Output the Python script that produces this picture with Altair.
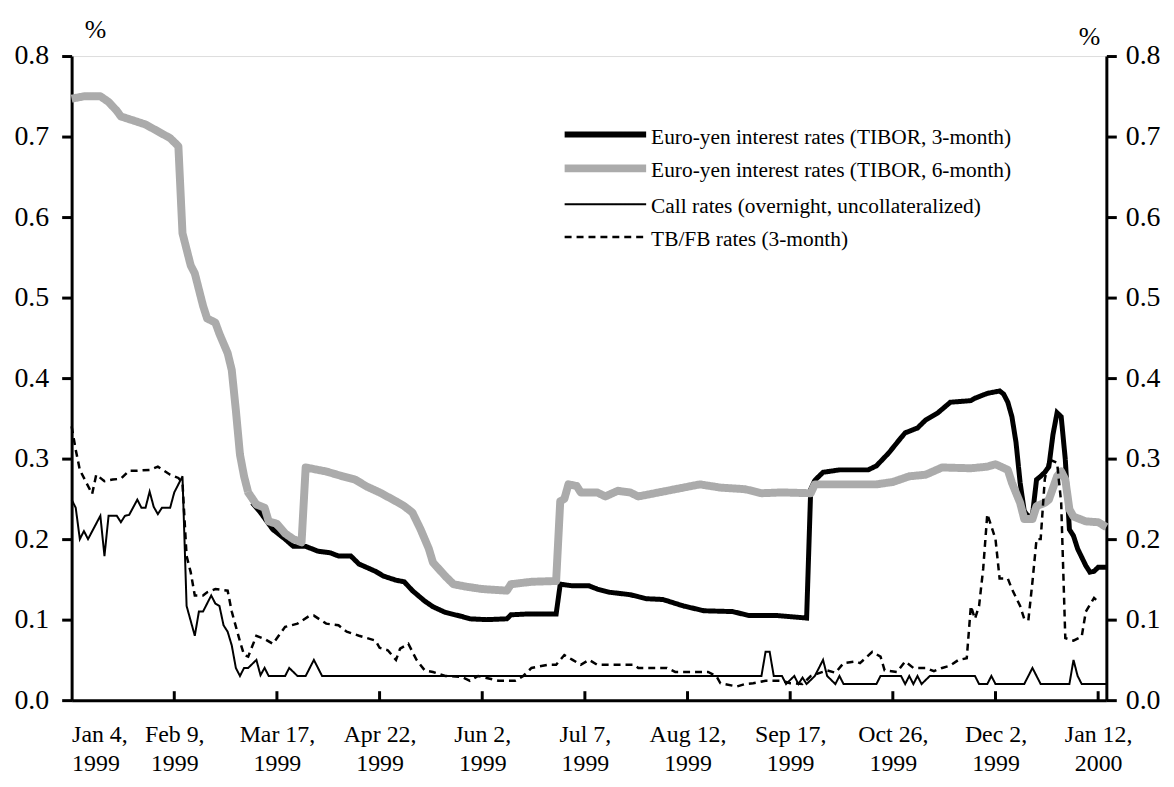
import altair as alt
import pandas as pd

FONT = "Liberation Serif"

# x positions are business-day counts from Jan 4, 1999
tick_idx = [0, 25, 50, 75, 100, 125, 150, 175, 200, 225, 250]
tick_month = ["Jan 4,", "Feb 9,", "Mar 17,", "Apr 22,", "Jun 2,", "Jul 7,",
              "Aug 12,", "Sep 17,", "Oct 26,", "Dec 2,", "Jan 12,"]
tick_year = ["1999"] * 10 + ["2000"]
y_ticks = [0.0, 0.1, 0.2, 0.3, 0.4, 0.5, 0.6, 0.7, 0.8]

names = ["Euro-yen interest rates (TIBOR, 3-month)",
         "Euro-yen interest rates (TIBOR, 6-month)",
         "Call rates (overnight, uncollateralized)",
         "TB/FB rates (3-month)"]

s3_idx = [44,46,49,52,54,57,60,63,65,68,70,74,76,79,81,83,86,88,91,95,97,101,106,107,111,118,119,122,126,128,
          131,136,140,144,149,154,161,165,172,179,180,181,183,187,194,196,199,202,203,206,208,211,214,219,220,
          223,226,227,228,229,230,231,232,233,234,235,236,237,238,239,240,241,242,243,244,245,247,248,249,250,252]
s3_val = [0.245,0.233,0.212,0.2,0.191,0.191,0.185,0.183,0.179,0.179,0.169,0.16,0.154,0.149,0.147,0.136,0.123,0.116,
          0.109,0.104,0.101,0.1,0.101,0.106,0.107,0.107,0.144,0.142,0.142,0.138,0.134,0.131,0.126,0.125,0.117,0.111,
          0.11,0.105,0.105,0.102,0.262,0.273,0.283,0.286,0.286,0.291,0.307,0.326,0.332,0.338,0.348,0.357,0.37,0.372,
          0.375,0.381,0.384,0.38,0.37,0.352,0.32,0.27,0.235,0.228,0.23,0.274,0.278,0.283,0.29,0.33,0.357,0.352,0.299,
          0.212,0.204,0.188,0.167,0.159,0.16,0.165,0.165]

s6_idx = [0,3,7,9,11,12,18,24,26,27,28,29,30,31,32,33,35,36,38,39,40,41,42,43,45,47,48,50,52,54,56,57,62,66,69,
          72,75,79,81,83,85,87,88,91,93,96,100,106,107,112,118,119,120,121,123,124,128,130,133,136,138,143,147,153,
          158,164,168,173,180,181,192,196,200,204,208,212,219,223,225,228,229,231,232,234,235,237,238,240,241,242,
          243,244,247,250,252]
s6_val = [0.747,0.75,0.75,0.743,0.732,0.725,0.715,0.698,0.688,0.58,0.56,0.54,0.53,0.51,0.49,0.474,0.469,0.455,0.431,
          0.41,0.36,0.305,0.278,0.258,0.243,0.239,0.222,0.219,0.207,0.2,0.196,0.289,0.284,0.278,0.274,0.265,0.258,
          0.247,0.241,0.233,0.212,0.188,0.171,0.154,0.144,0.141,0.138,0.136,0.144,0.147,0.148,0.247,0.25,0.268,0.266,
          0.258,0.258,0.253,0.26,0.258,0.253,0.258,0.262,0.268,0.264,0.262,0.257,0.258,0.257,0.268,0.268,0.268,0.271,
          0.278,0.28,0.289,0.288,0.29,0.293,0.286,0.27,0.245,0.225,0.225,0.241,0.245,0.249,0.278,0.284,0.274,0.237,
          0.228,0.222,0.221,0.215]

call_idx = [0,1,2,3,4,7,8,9,11,12,13,14,16,17,18,19,20,21,22,24,25,27,28,30,31,32,34,35,36,37,38,39,40,41,42,43,
            45,46,47,48,52,53,55,57,59,61,168,169,170,171,173,174,176,177,178,179,181,183,184,186,187,188,196,197,
            202,203,204,205,206,207,209,220,221,223,224,225,232,234,235,236,243,244,245,246,252]
call_val = [0.249,0.239,0.2,0.21,0.2,0.229,0.179,0.229,0.229,0.221,0.229,0.23,0.249,0.239,0.239,0.259,0.24,0.231,
            0.239,0.239,0.258,0.278,0.117,0.08,0.11,0.11,0.13,0.12,0.117,0.093,0.085,0.068,0.04,0.03,0.04,0.04,0.05,
            0.031,0.04,0.03,0.03,0.04,0.03,0.03,0.05,0.03,0.03,0.06,0.06,0.03,0.03,0.02,0.03,0.02,0.028,0.02,0.03,
            0.05,0.03,0.02,0.03,0.02,0.02,0.03,0.03,0.02,0.03,0.02,0.03,0.02,0.03,0.03,0.02,0.02,0.03,0.02,0.02,0.04,
            0.03,0.02,0.02,0.05,0.03,0.02,0.02]

tb_idx = [0,1,2,5,6,8,10,12,14,16,19,21,24,26,27,28,29,30,32,33,35,38,39,41,42,43,45,47,49,52,55,58,59,62,65,67,
          70,74,75,77,79,80,82,84,86,88,91,95,97,99,104,108,110,112,116,118,120,122,124,126,128,137,138,145,147,155,
          157,158,162,164,166,169,173,175,178,180,184,186,188,191,192,195,197,198,201,203,205,208,210,212,214,216,
          218,219,220,221,222,223,224,225,226,228,229,231,232,233,234,235,236,237,238,240,241,242,244,246,247,249,250]
tb_val = [0.34,0.311,0.286,0.256,0.28,0.272,0.274,0.275,0.285,0.285,0.286,0.29,0.28,0.276,0.27,0.179,0.159,0.13,0.13,
          0.134,0.138,0.136,0.11,0.073,0.056,0.054,0.08,0.076,0.07,0.091,0.095,0.105,0.105,0.095,0.093,0.085,0.08,
          0.074,0.065,0.062,0.05,0.064,0.07,0.05,0.037,0.035,0.03,0.029,0.024,0.03,0.024,0.024,0.03,0.04,0.044,0.044,
          0.056,0.05,0.044,0.05,0.044,0.044,0.04,0.04,0.035,0.035,0.03,0.021,0.017,0.02,0.021,0.024,0.024,0.021,0.02,
          0.03,0.037,0.034,0.046,0.048,0.046,0.06,0.054,0.037,0.035,0.048,0.04,0.04,0.036,0.04,0.043,0.05,0.052,0.117,
          0.101,0.117,0.163,0.231,0.216,0.2,0.151,0.151,0.138,0.117,0.101,0.099,0.147,0.2,0.2,0.274,0.299,0.295,0.245,
          0.077,0.074,0.079,0.11,0.127,0.122]

series_data = [(s3_idx, s3_val), (s6_idx, s6_val), (call_idx, call_val), (tb_idx, tb_val)]
colors = ["#000000", "#ababab", "#000000", "#000000"]
widths = [5, 8, 2, 2.5]
dashes = [[1, 0], [1, 0], [1, 0], [7, 5]]

W, H = 1041, 648

label_expr = " : ".join(
    f"datum.value == {i} ? ['{m}', '{y}']" for i, m, y in zip(tick_idx, tick_month, tick_year)
) + " : ''"

x_enc = alt.X("idx:Q",
              scale=alt.Scale(domain=[0, 252], nice=False, zero=False),
              axis=alt.Axis(values=tick_idx, ticks=False, labelExpr=label_expr, title=None,
                            grid=False, domainWidth=3, domainColor="black",
                            labelFontSize=24, labelLineHeight=29, labelPadding=23,
                            labelBaseline="top", labelFont=FONT, labelColor="black"))

def y_enc(orient):
    return alt.Y("value:Q",
                 scale=alt.Scale(domain=[0, 0.8], nice=False, zero=True),
                 axis=alt.Axis(orient=orient, values=y_ticks, format=".1f", title=None, grid=False,
                               domainWidth=3, domainColor="black", tickWidth=3, tickColor="black",
                               tickSize=10, labelFontSize=28, labelFont=FONT, labelColor="black",
                               labelPadding=13 if orient == "left" else 9))

layers = []
for k, (ix, vals) in enumerate(series_data):
    df = pd.DataFrame({"idx": ix, "value": vals, "series": names[k]})
    layers.append(
        alt.Chart(df).mark_line(color=colors[k], strokeWidth=widths[k], strokeDash=dashes[k],
                                strokeJoin="miter" if k != 1 else "round", strokeCap="butt")
        .encode(x=x_enc, y=y_enc("left"), order="idx:Q")
    )

# inward tick marks on the category axis
tick_df = pd.DataFrame({"idx": tick_idx[1:]})
layers.append(
    alt.Chart(tick_df).mark_rule(color="black", strokeWidth=3)
    .encode(x=x_enc, y=alt.value(H), y2=alt.value(H - 9))
)

# hand-drawn legend
one = pd.DataFrame({"a": [0]})
leg_y = [79, 113, 149, 182]
for k in range(4):
    layers.append(
        alt.Chart(one).mark_rule(color=colors[k], strokeWidth=widths[k] + (1 if k == 0 else 0),
                                 strokeDash=dashes[k], strokeCap="butt")
        .encode(x=alt.value(496), x2=alt.value(578), y=alt.value(leg_y[k]))
    )
    layers.append(
        alt.Chart(one).mark_text(align="left", baseline="middle", font=FONT, fontSize=21.5, color="black")
        .encode(x=alt.value(583), y=alt.value(leg_y[k] + 3), text=alt.value(names[k]))
    )

# unit labels
layers.append(
    alt.Chart(one).mark_text(align="center", baseline="middle", font=FONT, fontSize=26, color="black")
    .encode(x=alt.value(24), y=alt.value(-26), text=alt.value("%"))
)
layers.append(
    alt.Chart(one).mark_text(align="center", baseline="middle", font=FONT, fontSize=26, color="black")
    .encode(x=alt.value(1024), y=alt.value(-19), text=alt.value("%"))
)

inner = alt.layer(*layers)

right = alt.Chart(pd.DataFrame({"idx": s3_idx, "value": s3_val})).mark_line(opacity=0).encode(
    x=x_enc, y=y_enc("right"))

chart = alt.layer(inner, right).resolve_scale(y="independent").properties(
    width=W, height=H,
    autosize=alt.AutoSizeParams(type="none"),
    padding={"left": 64, "top": 46, "right": 60, "bottom": 77},
).configure_view(stroke="black", strokeWidth=3).configure(background="white")

chart.save("out.html", embed_options={"renderer": "svg", "actions": False})
